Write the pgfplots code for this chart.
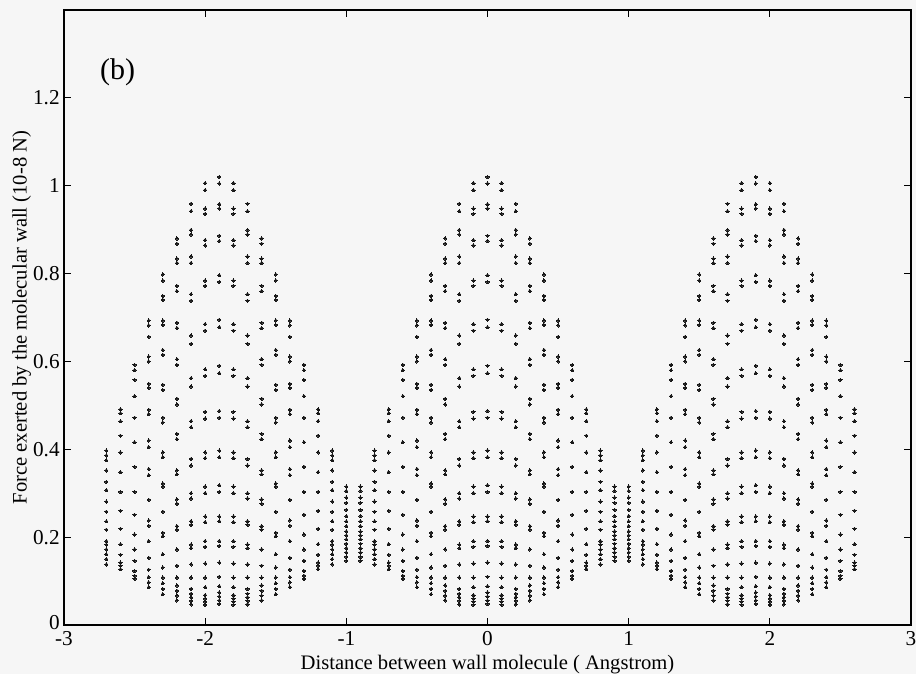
\documentclass[border=0pt]{standalone}
\usepackage{pgfplots}
\usepackage{pgfplotstable}
\pgfplotsset{compat=1.18}
\usepackage{fontspec}
\setmainfont{Liberation Serif}
\usetikzlibrary{backgrounds}
\definecolor{bg}{RGB}{246,246,246}
\definecolor{dotc}{RGB}{25,25,25}

% each row: x of the column, then the force values of its dots (nan = no dot)
\pgfplotstableread[header=false]{
-2.7 0.397 0.386 0.375 0.352 0.326 0.307 0.281 0.258 0.236 0.217 0.191 0.183 0.172 0.161 0.150 0.138 nan nan nan nan nan nan nan nan nan nan nan nan nan
-2.6 0.491 0.482 0.464 0.431 0.393 0.348 0.303 0.260 0.219 0.184 0.160 0.142 0.135 0.127 nan nan nan nan nan nan nan nan nan nan nan nan nan nan nan
-2.5 0.592 0.580 0.558 0.521 0.472 0.416 0.360 0.303 0.251 0.206 0.172 0.146 0.123 0.112 0.105 nan nan nan nan nan nan nan nan nan nan nan nan nan nan
-2.4 0.693 0.682 0.656 0.611 0.600 0.549 0.540 0.490 0.480 0.420 0.405 0.355 0.341 0.285 0.238 0.226 0.191 0.153 0.126 0.109 0.097 0.086 nan nan nan nan nan nan nan
-2.3 0.798 0.784 0.749 0.740 0.693 0.683 0.626 0.615 0.547 0.535 0.472 0.461 0.393 0.382 0.322 0.315 0.258 0.210 0.202 0.161 0.131 0.108 0.095 0.082 0.070 nan nan nan nan
-2.2 0.880 0.868 0.834 0.824 0.772 0.760 0.688 0.676 0.605 0.592 0.515 0.502 0.435 0.423 0.352 0.343 0.286 0.276 0.225 0.217 0.172 0.135 0.108 0.090 0.078 0.067 0.056 nan nan
-2.1 0.959 0.942 0.899 0.889 0.839 0.824 0.753 0.738 0.659 0.640 0.562 0.543 0.464 0.450 0.378 0.363 0.300 0.288 0.236 0.228 0.183 0.175 0.138 0.108 0.082 0.071 0.063 0.055 0.047
-2.0 1.006 0.990 0.948 0.936 0.876 0.864 0.784 0.772 0.685 0.670 0.582 0.567 0.485 0.470 0.393 0.380 0.315 0.300 0.247 0.234 0.191 0.178 0.140 0.108 0.086 0.068 0.060 0.053 0.046
-1.9 1.020 1.005 0.958 0.948 0.886 0.874 0.796 0.781 0.695 0.678 0.590 0.573 0.487 0.472 0.397 0.382 0.318 0.303 0.247 0.236 0.191 0.180 0.142 0.110 0.088 0.074 0.065 0.056 0.048
-1.8 1.006 0.990 0.948 0.936 0.876 0.864 0.784 0.772 0.685 0.670 0.582 0.567 0.485 0.470 0.393 0.380 0.315 0.300 0.247 0.234 0.191 0.178 0.140 0.108 0.086 0.068 0.060 0.053 0.046
-1.7 0.959 0.942 0.899 0.889 0.839 0.824 0.753 0.738 0.659 0.640 0.562 0.543 0.464 0.450 0.378 0.363 0.300 0.288 0.236 0.228 0.183 0.175 0.138 0.108 0.082 0.071 0.063 0.055 0.047
-1.6 0.880 0.868 0.834 0.824 0.772 0.760 0.688 0.676 0.605 0.592 0.515 0.502 0.435 0.423 0.352 0.343 0.286 0.276 0.225 0.217 0.172 0.135 0.108 0.090 0.078 0.067 0.056 nan nan
-1.5 0.798 0.784 0.749 0.740 0.693 0.683 0.626 0.615 0.547 0.535 0.472 0.461 0.393 0.382 0.322 0.315 0.258 0.210 0.202 0.161 0.131 0.108 0.095 0.082 0.070 nan nan nan nan
-1.4 0.693 0.682 0.656 0.611 0.600 0.549 0.540 0.490 0.480 0.420 0.405 0.355 0.341 0.285 0.238 0.226 0.191 0.153 0.126 0.109 0.097 0.086 nan nan nan nan nan nan nan
-1.3 0.592 0.580 0.558 0.521 0.472 0.416 0.360 0.303 0.251 0.206 0.172 0.146 0.123 0.112 0.105 nan nan nan nan nan nan nan nan nan nan nan nan nan nan
-1.2 0.491 0.482 0.464 0.431 0.393 0.348 0.303 0.260 0.219 0.184 0.160 0.142 0.135 0.127 nan nan nan nan nan nan nan nan nan nan nan nan nan nan nan
-1.1 0.397 0.386 0.375 0.352 0.326 0.307 0.281 0.258 0.236 0.217 0.191 0.183 0.172 0.161 0.150 0.138 nan nan nan nan nan nan nan nan nan nan nan nan nan
-1.0 0.315 0.305 0.290 0.278 0.262 0.248 0.236 0.225 0.213 0.204 0.195 0.185 0.175 0.165 0.155 0.146 nan nan nan nan nan nan nan nan nan nan nan nan nan
-0.9 0.315 0.305 0.290 0.278 0.262 0.248 0.236 0.225 0.213 0.204 0.195 0.185 0.175 0.165 0.155 0.146 nan nan nan nan nan nan nan nan nan nan nan nan nan
-0.8 0.397 0.386 0.375 0.352 0.326 0.307 0.281 0.258 0.236 0.217 0.191 0.183 0.172 0.161 0.150 0.138 nan nan nan nan nan nan nan nan nan nan nan nan nan
-0.7 0.491 0.482 0.464 0.431 0.393 0.348 0.303 0.260 0.219 0.184 0.160 0.142 0.135 0.127 nan nan nan nan nan nan nan nan nan nan nan nan nan nan nan
-0.6 0.592 0.580 0.558 0.521 0.472 0.416 0.360 0.303 0.251 0.206 0.172 0.146 0.123 0.112 0.105 nan nan nan nan nan nan nan nan nan nan nan nan nan nan
-0.5 0.693 0.682 0.656 0.611 0.600 0.549 0.540 0.490 0.480 0.420 0.405 0.355 0.341 0.285 0.238 0.226 0.191 0.153 0.126 0.109 0.097 0.086 nan nan nan nan nan nan nan
-0.4 0.798 0.784 0.749 0.740 0.693 0.683 0.626 0.615 0.547 0.535 0.472 0.461 0.393 0.382 0.322 0.315 0.258 0.210 0.202 0.161 0.131 0.108 0.095 0.082 0.070 nan nan nan nan
-0.3 0.880 0.868 0.834 0.824 0.772 0.760 0.688 0.676 0.605 0.592 0.515 0.502 0.435 0.423 0.352 0.343 0.286 0.276 0.225 0.217 0.172 0.135 0.108 0.090 0.078 0.067 0.056 nan nan
-0.2 0.959 0.942 0.899 0.889 0.839 0.824 0.753 0.738 0.659 0.640 0.562 0.543 0.464 0.450 0.378 0.363 0.300 0.288 0.236 0.228 0.183 0.175 0.138 0.108 0.082 0.071 0.063 0.055 0.047
-0.1 1.006 0.990 0.948 0.936 0.876 0.864 0.784 0.772 0.685 0.670 0.582 0.567 0.485 0.470 0.393 0.380 0.315 0.300 0.247 0.234 0.191 0.178 0.140 0.108 0.086 0.068 0.060 0.053 0.046
0.0 1.020 1.005 0.958 0.948 0.886 0.874 0.796 0.781 0.695 0.678 0.590 0.573 0.487 0.472 0.397 0.382 0.318 0.303 0.247 0.236 0.191 0.180 0.142 0.110 0.088 0.074 0.065 0.056 0.048
0.1 1.006 0.990 0.948 0.936 0.876 0.864 0.784 0.772 0.685 0.670 0.582 0.567 0.485 0.470 0.393 0.380 0.315 0.300 0.247 0.234 0.191 0.178 0.140 0.108 0.086 0.068 0.060 0.053 0.046
0.2 0.959 0.942 0.899 0.889 0.839 0.824 0.753 0.738 0.659 0.640 0.562 0.543 0.464 0.450 0.378 0.363 0.300 0.288 0.236 0.228 0.183 0.175 0.138 0.108 0.082 0.071 0.063 0.055 0.047
0.3 0.880 0.868 0.834 0.824 0.772 0.760 0.688 0.676 0.605 0.592 0.515 0.502 0.435 0.423 0.352 0.343 0.286 0.276 0.225 0.217 0.172 0.135 0.108 0.090 0.078 0.067 0.056 nan nan
0.4 0.798 0.784 0.749 0.740 0.693 0.683 0.626 0.615 0.547 0.535 0.472 0.461 0.393 0.382 0.322 0.315 0.258 0.210 0.202 0.161 0.131 0.108 0.095 0.082 0.070 nan nan nan nan
0.5 0.693 0.682 0.656 0.611 0.600 0.549 0.540 0.490 0.480 0.420 0.405 0.355 0.341 0.285 0.238 0.226 0.191 0.153 0.126 0.109 0.097 0.086 nan nan nan nan nan nan nan
0.6 0.592 0.580 0.558 0.521 0.472 0.416 0.360 0.303 0.251 0.206 0.172 0.146 0.123 0.112 0.105 nan nan nan nan nan nan nan nan nan nan nan nan nan nan
0.7 0.491 0.482 0.464 0.431 0.393 0.348 0.303 0.260 0.219 0.184 0.160 0.142 0.135 0.127 nan nan nan nan nan nan nan nan nan nan nan nan nan nan nan
0.8 0.397 0.386 0.375 0.352 0.326 0.307 0.281 0.258 0.236 0.217 0.191 0.183 0.172 0.161 0.150 0.138 nan nan nan nan nan nan nan nan nan nan nan nan nan
0.9 0.315 0.305 0.290 0.278 0.262 0.248 0.236 0.225 0.213 0.204 0.195 0.185 0.175 0.165 0.155 0.146 nan nan nan nan nan nan nan nan nan nan nan nan nan
1.0 0.315 0.305 0.290 0.278 0.262 0.248 0.236 0.225 0.213 0.204 0.195 0.185 0.175 0.165 0.155 0.146 nan nan nan nan nan nan nan nan nan nan nan nan nan
1.1 0.397 0.386 0.375 0.352 0.326 0.307 0.281 0.258 0.236 0.217 0.191 0.183 0.172 0.161 0.150 0.138 nan nan nan nan nan nan nan nan nan nan nan nan nan
1.2 0.491 0.482 0.464 0.431 0.393 0.348 0.303 0.260 0.219 0.184 0.160 0.142 0.135 0.127 nan nan nan nan nan nan nan nan nan nan nan nan nan nan nan
1.3 0.592 0.580 0.558 0.521 0.472 0.416 0.360 0.303 0.251 0.206 0.172 0.146 0.123 0.112 0.105 nan nan nan nan nan nan nan nan nan nan nan nan nan nan
1.4 0.693 0.682 0.656 0.611 0.600 0.549 0.540 0.490 0.480 0.420 0.405 0.355 0.341 0.285 0.238 0.226 0.191 0.153 0.126 0.109 0.097 0.086 nan nan nan nan nan nan nan
1.5 0.798 0.784 0.749 0.740 0.693 0.683 0.626 0.615 0.547 0.535 0.472 0.461 0.393 0.382 0.322 0.315 0.258 0.210 0.202 0.161 0.131 0.108 0.095 0.082 0.070 nan nan nan nan
1.6 0.880 0.868 0.834 0.824 0.772 0.760 0.688 0.676 0.605 0.592 0.515 0.502 0.435 0.423 0.352 0.343 0.286 0.276 0.225 0.217 0.172 0.135 0.108 0.090 0.078 0.067 0.056 nan nan
1.7 0.959 0.942 0.899 0.889 0.839 0.824 0.753 0.738 0.659 0.640 0.562 0.543 0.464 0.450 0.378 0.363 0.300 0.288 0.236 0.228 0.183 0.175 0.138 0.108 0.082 0.071 0.063 0.055 0.047
1.8 1.006 0.990 0.948 0.936 0.876 0.864 0.784 0.772 0.685 0.670 0.582 0.567 0.485 0.470 0.393 0.380 0.315 0.300 0.247 0.234 0.191 0.178 0.140 0.108 0.086 0.068 0.060 0.053 0.046
1.9 1.020 1.005 0.958 0.948 0.886 0.874 0.796 0.781 0.695 0.678 0.590 0.573 0.487 0.472 0.397 0.382 0.318 0.303 0.247 0.236 0.191 0.180 0.142 0.110 0.088 0.074 0.065 0.056 0.048
2.0 1.006 0.990 0.948 0.936 0.876 0.864 0.784 0.772 0.685 0.670 0.582 0.567 0.485 0.470 0.393 0.380 0.315 0.300 0.247 0.234 0.191 0.178 0.140 0.108 0.086 0.068 0.060 0.053 0.046
2.1 0.959 0.942 0.899 0.889 0.839 0.824 0.753 0.738 0.659 0.640 0.562 0.543 0.464 0.450 0.378 0.363 0.300 0.288 0.236 0.228 0.183 0.175 0.138 0.108 0.082 0.071 0.063 0.055 0.047
2.2 0.880 0.868 0.834 0.824 0.772 0.760 0.688 0.676 0.605 0.592 0.515 0.502 0.435 0.423 0.352 0.343 0.286 0.276 0.225 0.217 0.172 0.135 0.108 0.090 0.078 0.067 0.056 nan nan
2.3 0.798 0.784 0.749 0.740 0.693 0.683 0.626 0.615 0.547 0.535 0.472 0.461 0.393 0.382 0.322 0.315 0.258 0.210 0.202 0.161 0.131 0.108 0.095 0.082 0.070 nan nan nan nan
2.4 0.693 0.682 0.656 0.611 0.600 0.549 0.540 0.490 0.480 0.420 0.405 0.355 0.341 0.285 0.238 0.226 0.191 0.153 0.126 0.109 0.097 0.086 nan nan nan nan nan nan nan
2.5 0.592 0.580 0.558 0.521 0.472 0.416 0.360 0.303 0.251 0.206 0.172 0.146 0.123 0.112 0.105 nan nan nan nan nan nan nan nan nan nan nan nan nan nan
2.6 0.491 0.482 0.464 0.431 0.393 0.348 0.303 0.260 0.219 0.184 0.160 0.142 0.135 0.127 nan nan nan nan nan nan nan nan nan nan nan nan nan nan nan
}\forcedata

\begin{document}
\begin{tikzpicture}
\begin{axis}[
  name=ax,
  scale only axis,
  width=423.5pt, height=307.5pt,
  xmin=-3, xmax=3, ymin=0, ymax=1.4,
  xtick={-3,-2,-1,0,1,2,3},
  ytick={0,0.2,0.4,0.6,0.8,1,1.2},
  yticklabels={\raisebox{3pt}{0},0.2,0.4,0.6,0.8,1,1.2},
  xticklabels={-3,-2,-1,0,1,2,3},
  tick align=inside,
  tick pos=both,
  major tick length=3.5pt,
  every tick/.style={black, line width=0.45pt},
  axis line style={black, line width=0.55pt},
  tick label style={font=\fontsize{10.6}{12}\selectfont, black},
  xticklabel style={inner sep=1.5pt, yshift=-1.5pt},
  yticklabel style={inner sep=2pt},
  label style={font=\fontsize{10.3}{12}\selectfont, black},
  xlabel={Distance between wall molecule ( Angstrom)},
  ylabel={Force exerted by the molecular wall (10-8 N)},
  xlabel style={at={(axis description cs:0.5,-0.064)}, anchor=center},
  ylabel style={at={(axis description cs:-0.05,0.5)}, anchor=center},
  clip=false,
]
\pgfplotsinvokeforeach{1,...,29}{
  \addplot[only marks, mark=*, mark size=0.82pt,
    mark options={draw=dotc, fill=dotc, line width=0pt}]
    table[x index=0, y index=#1]{\forcedata};
}
\node[font=\fontsize{15}{18}\selectfont, anchor=center] at (axis cs:-2.62,1.258) {(b)};
\end{axis}
\pgfresetboundingbox
\path ([xshift=-32pt,yshift=-24.5pt]ax.south west) rectangle ([xshift=2.5pt,yshift=5pt]ax.north east);
\begin{scope}[on background layer]
\fill[bg] ([xshift=-32pt,yshift=-24.5pt]ax.south west) rectangle ([xshift=2.5pt,yshift=5pt]ax.north east);
\end{scope}
\end{tikzpicture}
\end{document}
